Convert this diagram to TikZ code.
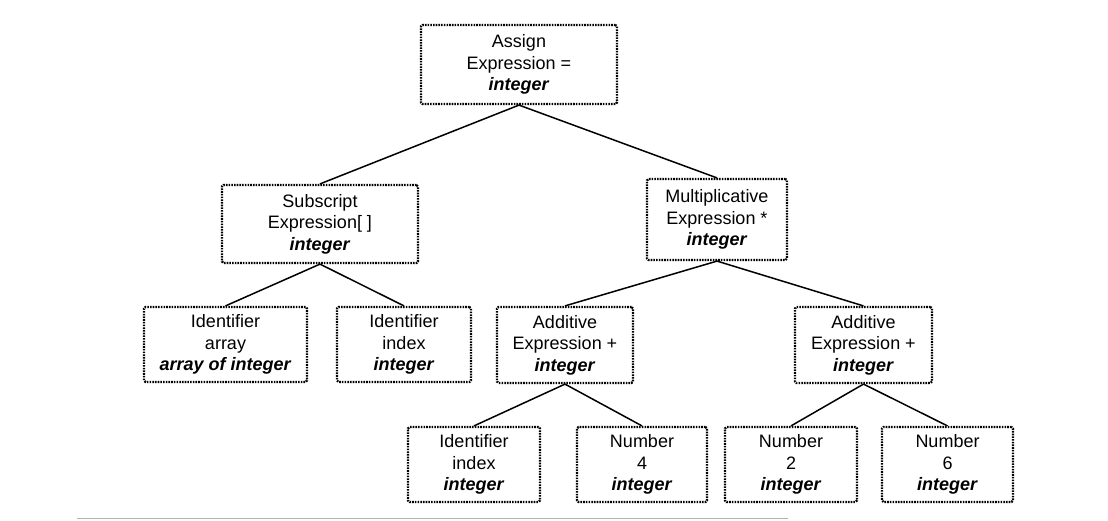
\documentclass[tikz,border=0pt]{standalone}
\usepackage{fontspec}
\setmainfont{Liberation Sans}
\newcommand{\typ}[1]{\textbf{\textit{#1}}}

\begin{document}
\begin{tikzpicture}[x=1pt,y=-1pt,
    exprbox/.style={draw,line width=2.2pt,dash pattern=on 1.6pt off 1.1pt,
      rounded corners=1.5pt,align=center,inner sep=0pt,
      font=\fontsize{18}{21.5}\selectfont}]
    \useasboundingbox (0,0) rectangle (1108,520);
    \node[exprbox,minimum width=196pt,minimum height=79pt](assign) at (519,64.5)
      {Assign\\Expression =\\\typ{integer}};
    \node[exprbox,minimum width=196pt,minimum height=78pt](subscript) at (320,224)
      {Subscript\\Expression[ ]\\\typ{integer}};
    \node[exprbox,minimum width=140pt,minimum height=81pt](mult) at (717,219.5)
      {Multiplicative\\Expression *\\\typ{integer}};
    \node[exprbox,minimum width=163pt,minimum height=75pt](idarray) at (225.5,344.5)
      {Identifier\\array\\\typ{array of integer}};
    \node[exprbox,minimum width=134pt,minimum height=75pt](idindex) at (404,344.5)
      {Identifier\\index\\\typ{integer}};
    \node[exprbox,minimum width=136pt,minimum height=76pt](addleft) at (565,345)
      {Additive\\Expression +\\\typ{integer}};
    \node[exprbox,minimum width=137pt,minimum height=76pt](addright) at (863.5,345)
      {Additive\\Expression +\\\typ{integer}};
    \node[exprbox,minimum width=132pt,minimum height=75pt](idindexb) at (474,464.5)
      {Identifier\\index\\\typ{integer}};
    \node[exprbox,minimum width=130pt,minimum height=75pt](numfour) at (642,464.5)
      {Number\\4\\\typ{integer}};
    \node[exprbox,minimum width=132pt,minimum height=75pt](numtwo) at (791,464.5)
      {Number\\2\\\typ{integer}};
    \node[exprbox,minimum width=131pt,minimum height=75pt](numsix) at (947.5,464.5)
      {Number\\6\\\typ{integer}};
    \path[line width=1.5pt]
    (assign.south) edge (subscript.north)
                   edge (mult.north)
    (subscript.south) edge (idarray.north)
                      edge (idindex.north)
    (mult.south) edge (addleft.north)
                 edge (addright.north)
    (addleft.south) edge (idindexb.north)
                    edge (numfour.north)
    (addright.south) edge (numtwo.north)
                     edge (numsix.north);
    % rule under the figure
    \draw[line width=1.5pt,black!30] (77,518.5) -- (788,518.5);
\end{tikzpicture}
\end{document}
